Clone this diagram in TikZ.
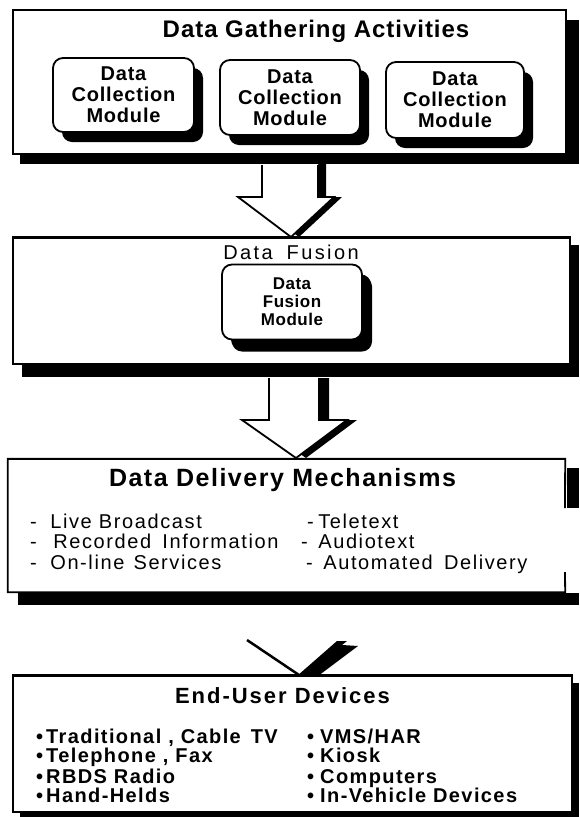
\documentclass[tikz,border=0pt]{standalone}
\usepackage{fontspec}
\setmainfont{Liberation Sans}
\usetikzlibrary{shadows,calc}
\newcommand{\myfnt}[3]{\fontsize{#1}{#2}\selectfont\addfontfeatures{LetterSpace=#3}}
\tikzset{
  boxline/.style={draw=black, line width=1.8pt},
  bigbox/.style={boxline, fill=white, rectangle, inner sep=0pt},
  shadowfill/.style={fill=black, draw=none},
  module/.style={draw=black, line width=1.8pt, fill=white, rounded corners=10pt,
    inner sep=0pt, align=center,
    drop shadow={shadow xshift=9pt, shadow yshift=-10pt, fill=black, opacity=1}},
  modtext/.style={font=\bfseries\myfnt{20}{21}{4}},
  titletext/.style={inner sep=0pt, anchor=base},
  itemtext/.style={inner sep=0pt, anchor=base west},
  arrowfill/.style={fill=white, draw=none},
  arrowline/.style={draw=black, line width=1.8pt, line join=miter},
}
\begin{document}
\begin{tikzpicture}[x=1pt,y=-1pt]
\useasboundingbox (0,0) rectangle (579,817);

% ---------- Box 1 ----------
\fill[shadowfill] (20,20) rectangle (579,164);
\node[bigbox, minimum width=553pt, minimum height=144pt] (b1) at (289.5,82) {};
\node[titletext, font=\bfseries\myfnt{24}{28}{4}] (t1) at (316,37) {Data Gathering Activities};
\node[module, modtext, minimum width=141pt, minimum height=74pt] (m1) at (123.5,95) {Data\\Collection\\Module};
\node[module, modtext, minimum width=140pt, minimum height=75pt] (m2) at (290,97.5) {Data\\Collection\\Module};
\node[module, modtext, minimum width=138pt, minimum height=76pt] (m3) at (455,100) {Data\\Collection\\Module};

% ---------- Box 2 ----------
\fill[shadowfill] (22,245) rectangle (579,377);
\node[bigbox, minimum width=557pt, minimum height=126pt] (b2) at (291.5,301) {};
\node[titletext, font=\myfnt{20}{24}{12}] (t2) at (291,259) {Data\hspace{14pt}Fusion};
\node[module, font=\bfseries\myfnt{17}{18}{3}, minimum width=140pt, minimum height=75pt,
  drop shadow={shadow xshift=10pt, shadow yshift=-12pt, fill=black, opacity=1}] (df) at (292,302) {Data\\Fusion\\Module};

% ---------- Arrow 1 (b1 -> b2) ----------
\coordinate (a1tip) at (291,237);
\fill[shadowfill] (270,164) -- (270,197) -- (246,197) -- ($(a1tip)+(8,0)$) -- (342,197) -- (326,197) -- (326,164) -- cycle;
\fill[arrowfill] (262,164) -- (262,197) -- (238,197) -- (a1tip) -- (334,197) -- (318,197) -- (318,164) -- cycle;
\draw[arrowline] (262,165) -- (262,197) -- (238,197) -- (a1tip) -- (334,197) -- (318,197) -- (318,165);
\draw[boxline] (b2.north west) -- (b2.north east);

% ---------- Box 3 ----------
\fill[shadowfill] (18,593) rectangle (579,605);
\fill[shadowfill] (567,468) rectangle (579,508);
\node[rectangle, fill=white, inner sep=0pt, minimum width=557pt, minimum height=133pt] (b3) at (286.5,525.5) {};
\draw[boxline] (565,508) -- (b3.north east) -- (b3.north west) -- (b3.south west) -- (b3.south east) -- (565,572);
\node[titletext, font=\bfseries\myfnt{25}{28}{6}] (t3) at (282.5,486) {Data Delivery Mechanisms};
\begin{scope}[every node/.append style={itemtext, font=\myfnt{20}{22}{8}}]
\node (i31) at (30,528) {-\hspace{13.5pt}Live Broadcast};
\node (i32) at (30,548) {-\hspace{16.5pt}Recorded\hspace{4pt} Information};
\node (i33) at (30,569) {-\hspace{13.5pt}On-line\hspace{2pt} Services};
\node (i34) at (307,528) {-\hspace{4.5pt}Teletext};
\node (i35) at (301,548) {-\hspace{10.5pt}Audiotext};
\node (i36) at (306,569) {-\hspace{10.5pt}Automated\hspace{4pt} Delivery};
\end{scope}

% ---------- Arrow 2 (b2 -> b3) ----------
\coordinate (a2tip) at (296,458);
\fill[shadowfill] (279,378) -- (279,420) -- (252,420) -- ($(a2tip)+(10,0)$) -- (357,420) -- (329,420) -- (329,378) -- cycle;
\fill[arrowfill] (269,378) -- (269,420) -- (242,420) -- (a2tip) -- (347,420) -- (319,420) -- (319,378) -- cycle;
\draw[arrowline] (269,378) -- (269,420) -- (242,420) -- (a2tip) -- (347,420) -- (319,420) -- (319,378);
\draw[boxline] (b3.north west) -- (b3.north east);

% ---------- Box 4 ----------
\fill[shadowfill] (20,683) rectangle (579,817);
\node[bigbox, minimum width=559pt, minimum height=136pt] (b4) at (292.5,744) {};
\node[titletext, font=\bfseries\myfnt{22}{26}{9}] (t4) at (282.5,703) {End-User Devices};
\begin{scope}[every node/.append style={itemtext, font=\bfseries\myfnt{20}{20}{7}}]
\node (i41) at (36,743) {•\hspace{3pt}Traditional , Cable\hspace{3pt} TV};
\node (i42) at (36,762) {•\hspace{3pt}Telephone , Fax};
\node (i43) at (36,783) {•\hspace{3pt}RBDS Radio};
\node (i44) at (36,802) {•\hspace{3pt}Hand-Helds};
\node (i45) at (307,743) {•\hspace{6pt}VMS/HAR};
\node (i46) at (307,762) {•\hspace{6pt}Kiosk};
\node (i47) at (307,783) {•\hspace{6pt}Computers};
\node (i48) at (307,802) {•\hspace{6pt}In-Vehicle Devices};
\end{scope}

% ---------- Arrow 3 (b3 -> b4), head only ----------
\coordinate (a3tip) at (299,675);
\draw[draw=black, line width=2.5pt] (247,640) -- (a3tip);
\fill[shadowfill] (297,676) -- (337,641) -- (347,641) -- (342,645) -- (358,646) -- (318,676) -- cycle;
\draw[boxline] (b4.north west) -- (b4.north east);
\end{tikzpicture}
\end{document}
